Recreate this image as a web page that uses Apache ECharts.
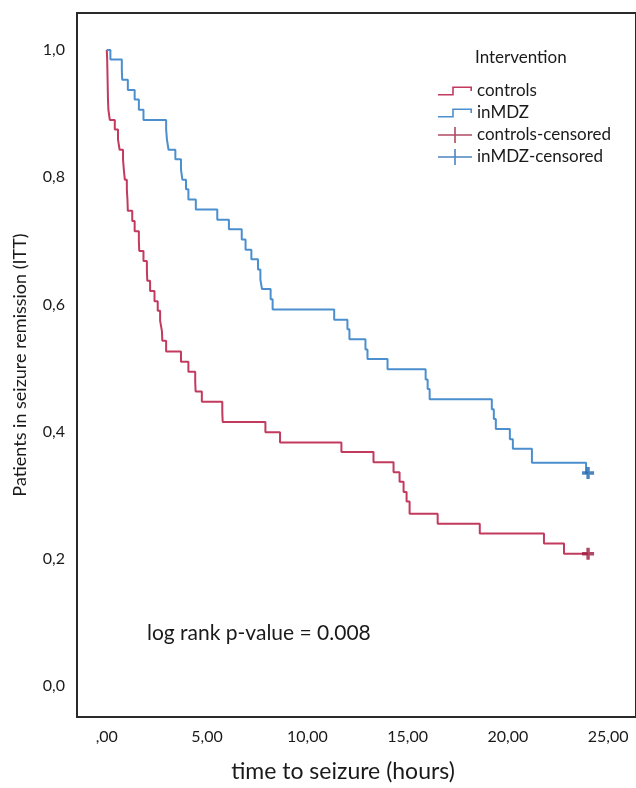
<!DOCTYPE html>
<html>
<head>
<meta charset="utf-8">
<script src="https://cdn.jsdelivr.net/npm/echarts@6/dist/echarts.min.js"></script>
<style>
  html, body { margin: 0; padding: 0; background: #fff; }
  #chart { width: 636px; height: 788px; }
</style>
</head>
<body>
<div id="chart"></div>
<script>
// Kaplan-Meier data (time in hours, proportion still seizure free)
var controlsTime = [0, 0.02, 0.03, 0.04, 0.05, 0.06, 0.08, 0.15, 0.40, 0.56, 0.64, 0.81, 0.85, 0.90, 1.00, 1.03, 1.05,
    1.27, 1.39, 1.60, 1.62, 1.83, 2.00, 2.02, 2.16, 2.38, 2.54, 2.66, 2.75, 2.77, 2.96, 3.70, 4.07, 4.41, 4.43,
    4.74, 5.76, 5.78, 7.91, 8.64, 11.7, 13.3, 14.3, 14.6, 14.8, 14.95, 15.1, 16.5, 18.6, 21.8, 22.8, 24.0];
var controlsSurv = [1.0, 0.985, 0.969, 0.953, 0.937, 0.922, 0.906, 0.890, 0.875, 0.859, 0.843, 0.828, 0.812, 0.796, 0.781, 0.765, 0.747,
    0.731, 0.715, 0.700, 0.684, 0.668, 0.653, 0.637, 0.621, 0.605, 0.590, 0.574, 0.558, 0.543, 0.526, 0.510, 0.494, 0.479, 0.463,
    0.447, 0.431, 0.415, 0.399, 0.383, 0.368, 0.352, 0.336, 0.321, 0.305, 0.290, 0.271, 0.255, 0.240, 0.224, 0.208, 0.208];

var mdzTime = [0, 0.18, 0.75, 0.77, 1.05, 1.39, 1.60, 1.83, 2.96, 3.00, 3.08, 3.42, 3.70, 3.77, 3.95, 4.07, 4.44,
    5.51, 6.09, 6.73, 6.92, 7.21, 7.54, 7.66, 7.74, 8.17, 8.27, 11.34, 12.0, 12.1, 12.9, 13.0, 14.0,
    15.9, 16.0, 16.1, 19.2, 19.3, 19.4, 20.1, 20.25, 21.2, 23.9, 24.0];
var mdzSurv = [1.0, 0.985, 0.969, 0.953, 0.937, 0.922, 0.906, 0.890, 0.875, 0.859, 0.843, 0.828, 0.812, 0.796, 0.781, 0.765, 0.749,
    0.733, 0.718, 0.702, 0.686, 0.671, 0.655, 0.639, 0.624, 0.608, 0.592, 0.576, 0.561, 0.545, 0.529, 0.514, 0.498,
    0.482, 0.467, 0.451, 0.435, 0.420, 0.404, 0.388, 0.373, 0.351, 0.335, 0.335];

// censored cases
var controlsCensored = [[24.0, 0.208]];
var mdzCensored = [[24.0, 0.335]];

var xTicks = [0, 5, 10, 15, 20, 25];
var yTicks = [0, 0.2, 0.4, 0.6, 0.8, 1.0];

function pairs(t, s) {
    return t.map(function (v, i) { return [v, s[i]]; });
}

var FONT = 'Lato';
var stepIcon = 'path://M0,7.6 L14.2,7.6 L14.2,0.2 L34,0.2 L34,4.8 L32.4,4.8 L32.4,1.8 L15.8,1.8 L15.8,9.2 L0,9.2 Z';
var crossIcon = 'path://M0,7.2 L16.2,7.2 L16.2,0 L17.8,0 L17.8,7.2 L34,7.2 L34,8.8 L17.8,8.8 L17.8,16 L16.2,16 L16.2,8.8 L0,8.8 Z';
var plusMark = 'path://M3.6,0 L6.4,0 L6.4,3.6 L10,3.6 L10,6.4 L6.4,6.4 L6.4,10 L3.6,10 L3.6,6.4 L0,6.4 L0,3.6 L3.6,3.6 Z';

var myChart = echarts.init(document.getElementById('chart'));

var option = {
    animation: false,
    backgroundColor: '#fff',
    textStyle: { fontFamily: FONT },
    title: {
        text: 'Intervention',
        left: 475,
        top: 49,
        padding: 0,
        textStyle: { fontFamily: FONT, fontSize: 17, fontWeight: 'normal', color: '#1a1a1a' }
    },
    legend: {
        orient: 'vertical',
        left: 438,
        top: 82,
        padding: 0,
        itemWidth: 34,
        itemHeight: 16,
        itemGap: 4,
        textStyle: { fontFamily: FONT, fontSize: 17, lineHeight: 18, color: '#1a1a1a' },
        data: [
            { name: 'controls', icon: stepIcon },
            { name: 'inMDZ', icon: stepIcon },
            { name: 'controls-censored', icon: crossIcon },
            { name: 'inMDZ-censored', icon: crossIcon }
        ]
    },
    grid: {
        left: 77,
        right: -4,
        top: 13,
        bottom: 69,
        show: true,
        borderColor: '#2a2a2a',
        borderWidth: 2
    },
    xAxis: {
        type: 'value',
        min: -1.485,
        max: 26.39,
        name: 'time to seizure (hours)',
        nameLocation: 'middle',
        nameGap: 43,
        nameTextStyle: { fontFamily: FONT, fontSize: 23, color: '#1a1a1a', padding: [0, 27, 0, 0] },
        axisLine: { show: false },
        axisTick: { show: false },
        splitLine: { show: false },
        axisLabel: {
            customValues: xTicks,
            margin: 12,
            fontFamily: FONT,
            fontSize: 16,
            color: '#1a1a1a',
            formatter: function (v) {
                return v === 0 ? ',00' : v.toFixed(2).replace('.', ',');
            }
        }
    },
    yAxis: {
        type: 'value',
        min: -0.0486,
        max: 1.058,
        name: 'Patients in seizure remission (ITT)',
        nameLocation: 'middle',
        nameGap: 48,
        nameTextStyle: { fontFamily: FONT, fontSize: 18, color: '#1a1a1a' },
        axisLine: { show: false },
        axisTick: { show: false },
        splitLine: { show: false },
        axisLabel: {
            customValues: yTicks,
            margin: 12,
            fontFamily: FONT,
            fontSize: 16,
            color: '#1a1a1a',
            formatter: function (v) { return v.toFixed(1).replace('.', ','); }
        }
    },
    graphic: [{
        type: 'text',
        left: 147,
        top: 623,
        style: { text: 'log rank p-value = 0.008', fontFamily: FONT, fontSize: 21, fill: '#1a1a1a' }
    }],
    series: [
        {
            name: 'controls',
            type: 'line',
            step: 'end',
            symbol: 'none',
            data: pairs(controlsTime, controlsSurv),
            itemStyle: { color: '#c23a5e' },
            lineStyle: { color: '#c23a5e', width: 2 }
        },
        {
            name: 'inMDZ',
            type: 'line',
            step: 'end',
            symbol: 'none',
            data: pairs(mdzTime, mdzSurv),
            itemStyle: { color: '#4b8fcf' },
            lineStyle: { color: '#4b8fcf', width: 2 }
        },
        {
            name: 'controls-censored',
            type: 'scatter',
            symbol: plusMark,
            symbolSize: 12,
            data: controlsCensored,
            itemStyle: { color: '#9c1b3f' },
            z: 5
        },
        {
            name: 'inMDZ-censored',
            type: 'scatter',
            symbol: plusMark,
            symbolSize: 12,
            data: mdzCensored,
            itemStyle: { color: '#1f67ad' },
            z: 5
        }
    ]
};

myChart.setOption(option);
</script>
</body>
</html>
